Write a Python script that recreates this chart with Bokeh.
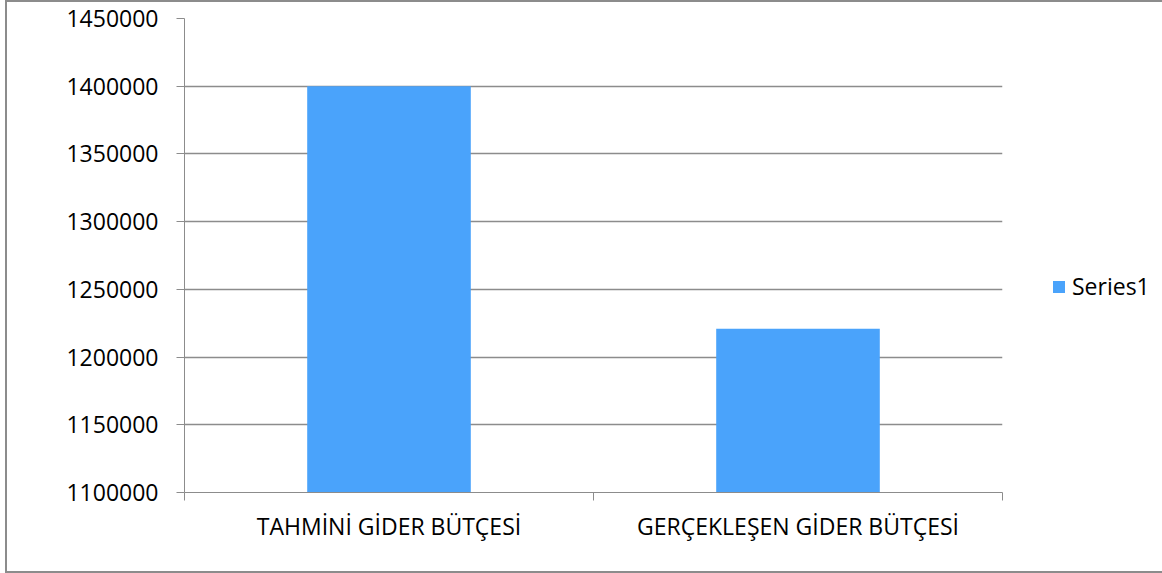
from bokeh.plotting import figure
from bokeh.models import Range1d, FixedTicker, Legend, LegendItem, ColumnDataSource
from bokeh.embed import file_html
from bokeh.resources import INLINE

categories = ["TAHMİNİ GİDER BÜTÇESİ", "GERÇEKLEŞEN GİDER BÜTÇESİ"]
series1 = [1400000, 1221000]
series_name = "Series1"
y_ticks = [1100000, 1150000, 1200000, 1250000, 1300000, 1350000, 1400000, 1450000]

y_min, y_max = y_ticks[0], y_ticks[-1]
xs = [i + 0.5 for i in range(len(categories))]
src = ColumnDataSource(dict(x=xs, top=series1, bottom=[y_min] * len(series1)))

FONT = "Open Sans"
GRID = "#8c8c8c"
BAR = "#4aa3fb"

p = figure(frame_width=818, frame_height=474, output_backend="svg", toolbar_location=None,
           x_range=Range1d(0, len(categories)), y_range=Range1d(y_min, y_max),
           min_border_left=177, min_border_right=155, min_border_top=16, min_border_bottom=79)
p.styles = {"border-left": "2px solid #8c8c8c", "border-top": "2px solid #8c8c8c",
            "border-bottom": "2px solid #8c8c8c", "box-sizing": "border-box",
            "margin-left": "5px"}
p.outline_line_color = None
p.background_fill_color = "white"
p.border_fill_color = "white"

r = p.vbar(x="x", top="top", bottom="bottom", width=0.4, source=src, color=BAR, line_color=None)

# y axis
p.yaxis.ticker = FixedTicker(ticks=y_ticks)
p.yaxis.formatter.use_scientific = False
p.yaxis.axis_line_color = GRID
p.yaxis.major_tick_line_color = GRID
p.yaxis.major_tick_out = 8
p.yaxis.major_tick_in = 0
p.yaxis.minor_tick_line_color = None
p.yaxis.major_label_standoff = 18
p.yaxis.major_label_text_font = FONT
p.yaxis.major_label_text_font_size = "23px"
p.yaxis.major_label_text_color = "black"

# x axis: labels at centers, tick marks at boundaries
p.xaxis.ticker = FixedTicker(ticks=xs, minor_ticks=list(range(len(categories) + 1)))
p.xaxis.major_label_overrides = {x: c for x, c in zip(xs, categories)}
p.xaxis.axis_line_color = GRID
p.xaxis.major_tick_line_color = None
p.xaxis.minor_tick_line_color = GRID
p.xaxis.minor_tick_out = 8
p.xaxis.minor_tick_in = 0
p.xaxis.major_label_standoff = 9
p.xaxis.major_label_text_font = FONT
p.xaxis.major_label_text_font_size = "23px"
p.xaxis.major_label_text_color = "black"

p.xgrid.grid_line_color = None
p.ygrid.ticker = FixedTicker(ticks=y_ticks)
p.ygrid.grid_line_color = GRID
p.ygrid.grid_line_width = 1.5

legend = Legend(items=[LegendItem(label=series_name, renderers=[r])],
                location=(49, 190), orientation="vertical",
                glyph_width=15, glyph_height=15, label_standoff=6,
                padding=0, margin=0, spacing=0,
                border_line_color=None, background_fill_alpha=0,
                label_text_font=FONT, label_text_font_size="23px", label_text_color="black")
p.add_layout(legend, "right")

open("out.html", "w").write(file_html(p, INLINE))
